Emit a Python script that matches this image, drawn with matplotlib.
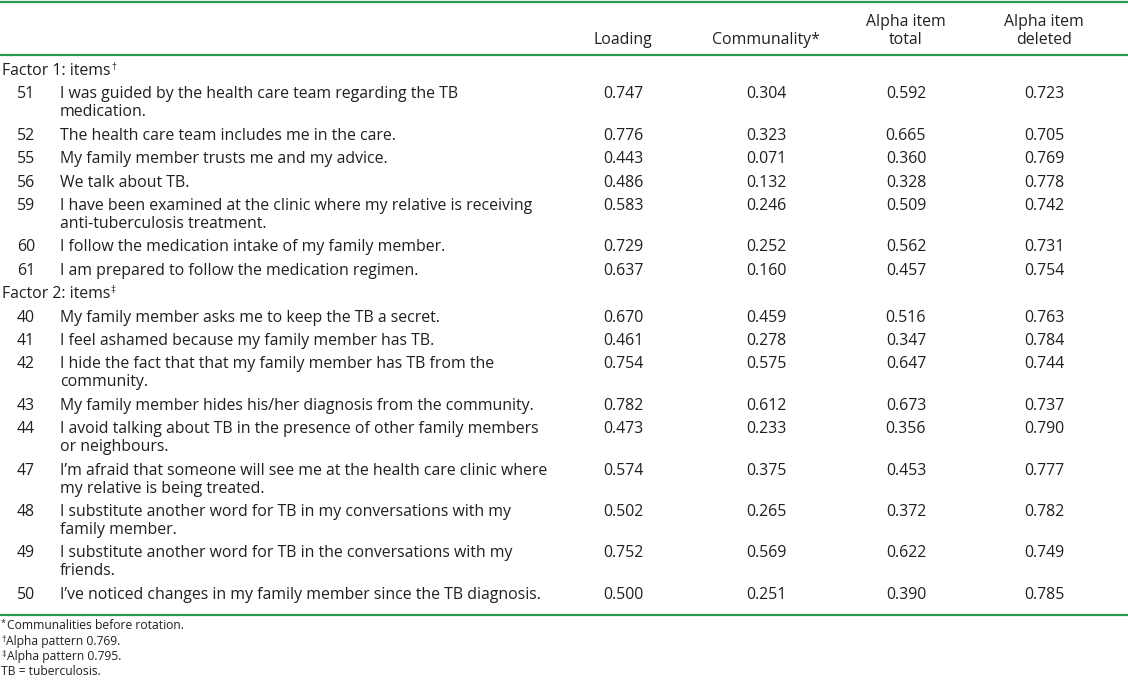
import matplotlib.pyplot as plt

plt.rcParams['font.family'] = ['Open Sans', 'DejaVu Sans']

# table content
col_headers = ['Loading', 'Communality*', 'Alpha item\ntotal', 'Alpha item\ndeleted']
factor_labels = ['Factor 1: items', 'Factor 2: items']
factor_marks = ['\u2020', '\u2021']

f1_ids = [51, 52, 55, 56, 59, 60, 61]
f1_text = [
    'I was guided by the health care team regarding the TB\nmedication.',
    'The health care team includes me in the care.',
    'My family member trusts me and my advice.',
    'We talk about TB.',
    'I have been examined at the clinic where my relative is receiving\nanti-tuberculosis treatment.',
    'I follow the medication intake of my family member.',
    'I am prepared to follow the medication regimen.',
]
f1_loading = [0.747, 0.776, 0.443, 0.486, 0.583, 0.729, 0.637]
f1_communality = [0.304, 0.323, 0.071, 0.132, 0.246, 0.252, 0.160]
f1_alpha_total = [0.592, 0.665, 0.360, 0.328, 0.509, 0.562, 0.457]
f1_alpha_deleted = [0.723, 0.705, 0.769, 0.778, 0.742, 0.731, 0.754]

f2_ids = [40, 41, 42, 43, 44, 47, 48, 49, 50]
f2_text = [
    'My family member asks me to keep the TB a secret.',
    'I feel ashamed because my family member has TB.',
    'I hide the fact that that my family member has TB from the\ncommunity.',
    'My family member hides his/her diagnosis from the community.',
    'I avoid talking about TB in the presence of other family members\nor neighbours.',
    'I\u2019m afraid that someone will see me at the health care clinic where\nmy relative is being treated.',
    'I substitute another word for TB in my conversations with my\nfamily member.',
    'I substitute another word for TB in the conversations with my\nfriends.',
    'I\u2019ve noticed changes in my family member since the TB diagnosis.',
]
f2_loading = [0.670, 0.461, 0.754, 0.782, 0.473, 0.574, 0.502, 0.752, 0.500]
f2_communality = [0.459, 0.278, 0.575, 0.612, 0.233, 0.375, 0.265, 0.569, 0.251]
f2_alpha_total = [0.516, 0.347, 0.647, 0.673, 0.356, 0.453, 0.372, 0.622, 0.390]
f2_alpha_deleted = [0.763, 0.784, 0.744, 0.737, 0.790, 0.777, 0.782, 0.749, 0.785]

footnote_marks = ['*', '\u2020', '\u2021', '']
footnote_text = ['Communalities before rotation.', 'Alpha pattern 0.769.',
                 'Alpha pattern 0.795.', 'TB = tuberculosis.']

GREEN = '#2b9a4f'
INK = '#231f20'
FS = 11.4
FS_NOTE = 8.7

fig = plt.figure(figsize=(11.28, 6.86), dpi=100)
ax = fig.add_axes([0, 0, 1, 1])
ax.set_xlim(0, 1128)
ax.set_ylim(686, 0)
ax.axis('off')
r = fig.canvas.get_renderer()
inv = ax.transData.inverted()


def right_edge(t):
    bb = t.get_window_extent(renderer=r)
    return inv.transform((bb.x1, bb.y0))[0]


col_x = [623, 766, 906, 1044]
id_x = 26
text_x = 60
line_h = 18
row_h = 23.4

# rules
ax.plot([0, 1128], [1.5, 1.5], color=GREEN, lw=1.6, solid_capstyle='butt')
ax.plot([0, 1128], [54.5, 54.5], color=GREEN, lw=1.6, solid_capstyle='butt')

for x, h in zip(col_x, col_headers):
    parts = h.split('\n')
    for k, p in enumerate(parts[::-1]):
        ax.text(x, 40 - k * line_h, p, ha='center', va='center', fontsize=FS, color=INK)

y = 71
groups = [
    (f1_ids, f1_text, f1_loading, f1_communality, f1_alpha_total, f1_alpha_deleted),
    (f2_ids, f2_text, f2_loading, f2_communality, f2_alpha_total, f2_alpha_deleted),
]
for g, (ids, texts, lo, co, at, ad) in enumerate(groups):
    t = ax.text(2, y, factor_labels[g], ha='left', va='center', fontsize=FS, color=INK)
    ax.text(right_edge(t) + 0.5, y - 3.5, factor_marks[g], ha='left', va='center',
            fontsize=7, color=INK)
    y += row_h
    for i in range(len(ids)):
        lines = texts[i].split('\n')
        ax.text(id_x, y, str(ids[i]), ha='center', va='center', fontsize=FS, color=INK)
        for k, ln in enumerate(lines):
            ax.text(text_x, y + k * line_h, ln, ha='left', va='center',
                    fontsize=FS, color=INK)
        for x, v in zip(col_x, [lo[i], co[i], at[i], ad[i]]):
            ax.text(x, y, f'{v:.3f}', ha='center', va='center', fontsize=FS, color=INK)
        y += row_h + line_h * (len(lines) - 1)

bottom = y - row_h + 20
ax.plot([0, 1128], [bottom, bottom], color=GREEN, lw=1.6, solid_capstyle='butt')

ny = bottom + 11
for m, s in zip(footnote_marks, footnote_text):
    x = 1
    if m:
        mt = ax.text(x, ny - 2, m, ha='left', va='center', fontsize=6.5, color=INK)
        x = right_edge(mt) + 1
    ax.text(x, ny, s, ha='left', va='center', fontsize=FS_NOTE, color=INK)
    ny += 15.3

fig.savefig('out.png', dpi=100, facecolor='white')
